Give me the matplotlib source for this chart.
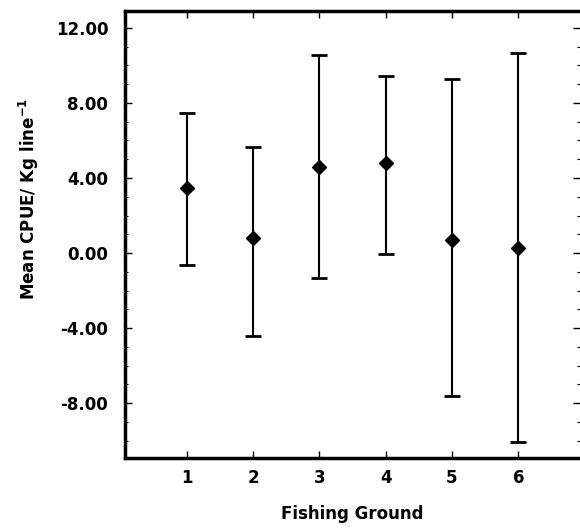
import numpy as np
import matplotlib
matplotlib.use("Agg")
import matplotlib.pyplot as plt
from matplotlib.ticker import MultipleLocator

# Mean CPUE per fishing ground, with lower/upper ends of the error bars
grounds = [1, 2, 3, 4, 5, 6]
mean_cpue = [3.45, 0.78, 4.57, 4.78, 0.69, 0.25]
upper = [7.45, 5.67, 10.56, 9.44, 9.26, 10.65]
lower = [-0.64, -4.41, -1.32, -0.07, -7.63, -10.06]
yticks = [-8, -4, 0, 4, 8, 12]

mean_cpue = np.array(mean_cpue)
yerr = [mean_cpue - np.array(lower), np.array(upper) - mean_cpue]

plt.rcParams['font.family'] = ['DejaVu Sans']
plt.rcParams['font.weight'] = 'bold'
plt.rcParams['axes.labelweight'] = 'bold'
plt.rcParams['mathtext.default'] = 'bf'

fig = plt.figure(figsize=(5.8, 5.28), dpi=100)
ax = fig.add_axes([0.2155, 0.1326, 0.7845, 0.8464])

ax.errorbar(grounds, mean_cpue, yerr=yerr, fmt="D", color="black",
            markersize=7.5, ecolor="black", elinewidth=1.5, capsize=6, capthick=2)

ax.set_xlim(0.07, 6.93)
ax.set_ylim(-10.93, 12.9)
ax.set_xticks(grounds)
ax.set_yticks(yticks)
ax.set_yticklabels(["%.2f" % t for t in yticks])
ax.yaxis.set_minor_locator(MultipleLocator(1))

ax.tick_params(axis="both", which="major", direction="in", length=5, width=1,
               labelsize=12, top=True, right=True)
ax.tick_params(axis="y", which="minor", direction="in", length=2, width=0.8, right=True)
ax.tick_params(axis="x", pad=8)
ax.tick_params(axis="y", pad=12)

for side in ["left", "bottom", "top"]:
    ax.spines[side].set_linewidth(2.5)
ax.spines["right"].set_visible(False)

ax.set_xlabel("Fishing Ground", fontsize=12, labelpad=13)
ax.set_ylabel("Mean CPUE/ Kg line$^{-1}$", fontsize=12)
ax.yaxis.set_label_coords(-0.185, 0.58)

fig.savefig("out.png", dpi=100)
